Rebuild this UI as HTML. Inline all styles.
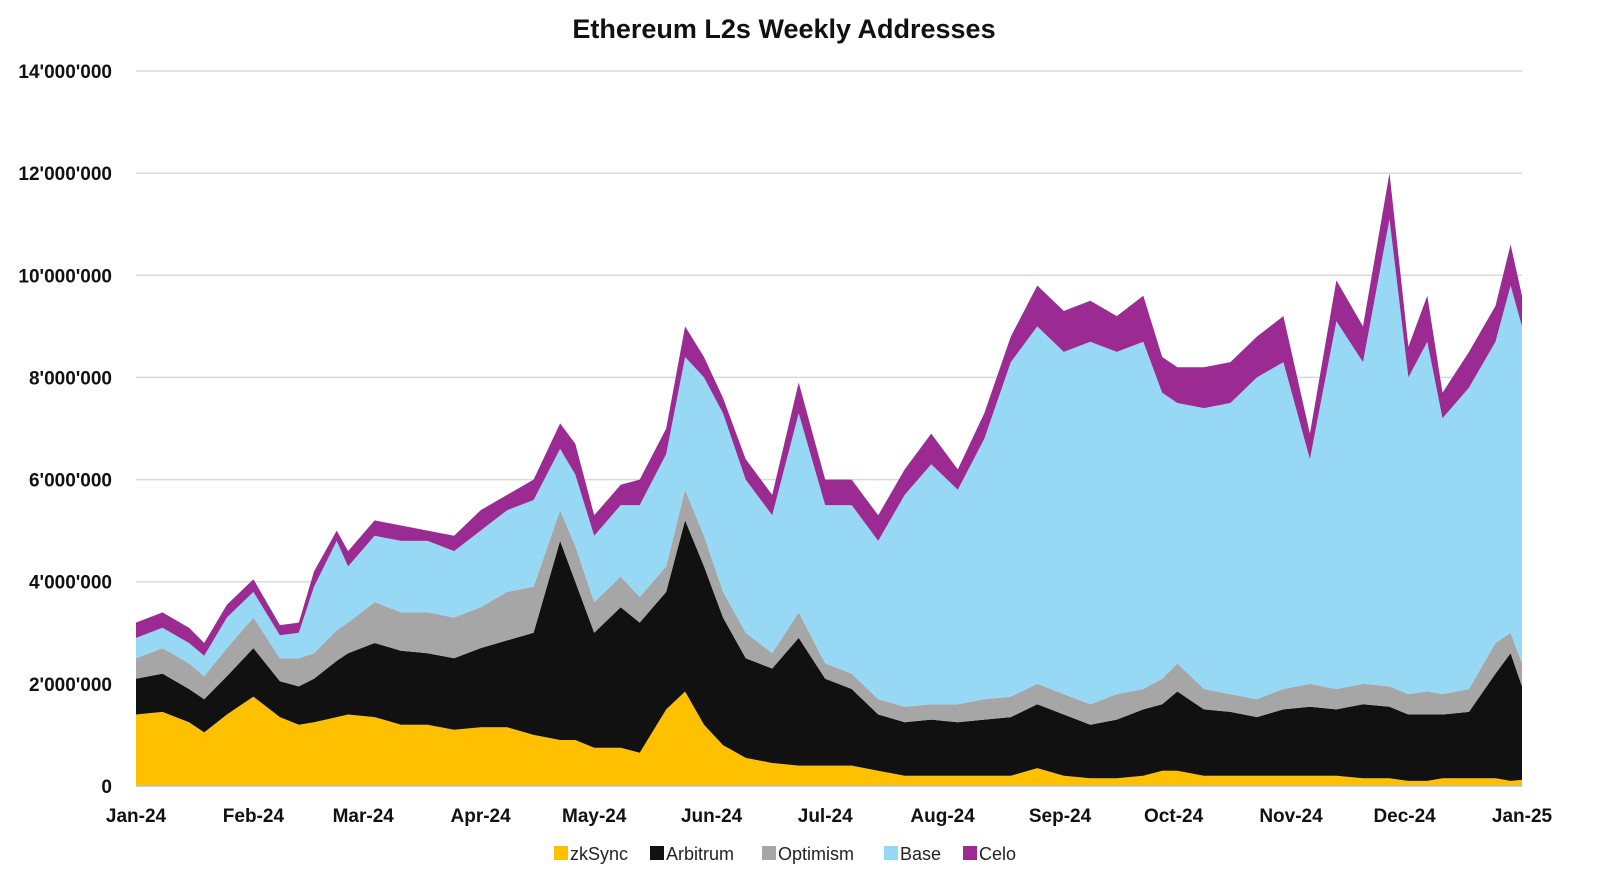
<!DOCTYPE html>
<html><head><meta charset="utf-8"><style>
html,body{margin:0;padding:0;background:#fff;overflow:hidden;width:1600px;height:895px;}
svg{display:block;}
svg text{font-family:"Liberation Sans",Arial,sans-serif;}
</style></head><body>
<svg id="chart" width="1600" height="895" viewBox="0 0 1600 895">
<text x="784" y="38" text-anchor="middle" font-size="27" font-weight="bold" fill="#111">Ethereum L2s Weekly Addresses</text>
<g id="grid"></g>
<g id="areas"></g>
<g id="xaxis"></g>
<g id="legend"></g>
</svg>
<script>
const days=[0,7,14,18,24,31,38,43,47,53,56,63,70,77,84,91,98,105,112,116,121,128,133,140,145,150,155,161,168,175,182,189,196,203,210,217,224,231,238,245,252,259,266,271,275,282,289,296,303,310,317,324,331,336,341,345,352,359,363,366];
const zkSync=[1.4,1.45,1.25,1.05,1.4,1.75,1.35,1.2,1.25,1.35,1.4,1.35,1.2,1.2,1.1,1.15,1.15,1.0,0.9,0.9,0.75,0.75,0.65,1.5,1.85,1.2,0.8,0.55,0.45,0.4,0.4,0.4,0.3,0.2,0.2,0.2,0.2,0.2,0.35,0.2,0.15,0.15,0.2,0.3,0.3,0.2,0.2,0.2,0.2,0.2,0.2,0.15,0.15,0.1,0.1,0.15,0.15,0.15,0.1,0.12];
const arbitrum=[0.7,0.75,0.65,0.65,0.75,0.95,0.7,0.75,0.85,1.1,1.2,1.45,1.45,1.4,1.4,1.55,1.7,2.0,3.9,3.1,2.25,2.75,2.55,2.3,3.35,3.1,2.5,1.95,1.85,2.5,1.7,1.5,1.1,1.05,1.1,1.05,1.1,1.15,1.25,1.2,1.05,1.15,1.3,1.3,1.55,1.3,1.25,1.15,1.3,1.35,1.3,1.45,1.4,1.3,1.3,1.25,1.3,2.05,2.5,1.83];
const optimism=[0.4,0.5,0.5,0.45,0.55,0.6,0.45,0.55,0.5,0.6,0.6,0.8,0.75,0.8,0.8,0.8,0.95,0.9,0.6,0.7,0.6,0.6,0.5,0.5,0.6,0.6,0.5,0.5,0.3,0.5,0.3,0.3,0.3,0.3,0.3,0.35,0.4,0.4,0.4,0.4,0.4,0.5,0.4,0.5,0.55,0.4,0.35,0.35,0.4,0.45,0.4,0.4,0.4,0.4,0.45,0.4,0.45,0.6,0.4,0.45];
const base=[0.4,0.4,0.4,0.4,0.6,0.5,0.45,0.5,1.3,1.75,1.1,1.3,1.4,1.4,1.3,1.5,1.6,1.7,1.2,1.4,1.3,1.4,1.8,2.2,2.6,3.1,3.5,3.0,2.7,3.9,3.1,3.3,3.1,4.15,4.7,4.2,5.1,6.55,7.0,6.7,7.1,6.7,6.8,5.6,5.1,5.5,5.7,6.3,6.4,4.4,7.2,6.3,9.15,6.2,6.85,5.4,5.9,5.9,6.8,6.6];
const celo=[0.3,0.3,0.3,0.25,0.25,0.25,0.2,0.2,0.3,0.2,0.3,0.3,0.3,0.2,0.3,0.4,0.3,0.4,0.5,0.6,0.4,0.4,0.5,0.5,0.6,0.4,0.3,0.4,0.4,0.6,0.5,0.5,0.5,0.5,0.6,0.4,0.5,0.5,0.8,0.8,0.8,0.7,0.9,0.7,0.7,0.8,0.8,0.8,0.9,0.5,0.8,0.7,0.9,0.6,0.9,0.5,0.7,0.7,0.8,0.6];
const yTicks=[0,2,4,6,8,10,12,14];
const yTickLabels=["0","2'000'000","4'000'000","6'000'000","8'000'000","10'000'000","12'000'000","14'000'000"];
const xTickDays=[0,31,60,91,121,152,182,213,244,274,305,335,366];
const xTickLabels=["Jan-24","Feb-24","Mar-24","Apr-24","May-24","Jun-24","Jul-24","Aug-24","Sep-24","Oct-24","Nov-24","Dec-24","Jan-25"];
const seriesNames=["zkSync","Arbitrum","Optimism","Base","Celo"];
const seriesColors=["#FFC000","#111111","#A6A6A6","#97D9F5","#9B2A92"];

const NS="http://www.w3.org/2000/svg";
const X0=136,X1=1522,Y0=786,Y1=71;
const xs=d=>X0+(d/366)*(X1-X0);
const ys=v=>Y0-(v/14)*(Y0-Y1);
function mk(tag,attrs,parent){const e=document.createElementNS(NS,tag);for(const k in attrs)e.setAttribute(k,attrs[k]);parent.appendChild(e);return e;}
const grid=document.getElementById('grid');
yTicks.forEach((t,i)=>{
  if(t>0){const l=mk('line',{x1:X0,x2:X1,y1:ys(t),y2:ys(t),stroke:'#D9D9D9','stroke-width':1.5},grid);
  
  }
  const tx=mk('text',{x:112,y:ys(t)+7,'text-anchor':'end','font-size':19,'font-weight':'bold',fill:'#111'},grid);
  tx.textContent=yTickLabels[i];
  
  
});
const series=[zkSync,arbitrum,optimism,base,celo];
const areas=document.getElementById('areas');
let lower=days.map(()=>0);
series.forEach((s,si)=>{
  const upper=lower.map((v,i)=>v+s[i]);
  let d='M'+days.map((dd,i)=>xs(dd).toFixed(1)+','+ys(upper[i]).toFixed(1)).join(' L');
  for(let i=days.length-1;i>=0;i--)d+=' L'+xs(days[i]).toFixed(1)+','+ys(lower[i]).toFixed(1);
  d+=' Z';
  const p=mk('path',{d:d,fill:seriesColors[si]},areas);
  
  
  lower=upper;
});
const xa=document.getElementById('xaxis');
const axl=mk('line',{x1:X0,x2:X1,y1:Y0,y2:Y0,stroke:'#BFBFBF','stroke-width':1.5},xa);


xTickDays.forEach((d,i)=>{
  const tx=mk('text',{x:xs(d),y:822,'text-anchor':'middle','font-size':19,'font-weight':'bold',fill:'#111'},xa);
  tx.textContent=xTickLabels[i];
  
  
});
const lg=document.getElementById('legend');
const lx=[554,650,762,884,963];
seriesNames.forEach((n,i)=>{
  const g=mk('g',{},lg);
  
  
  mk('rect',{x:lx[i],y:846,width:14,height:14,fill:seriesColors[i]},g);
  const t=mk('text',{x:lx[i]+16,y:860,'font-size':18,fill:'#222'},g);
  t.textContent=n;
});
</script>
</body></html>
